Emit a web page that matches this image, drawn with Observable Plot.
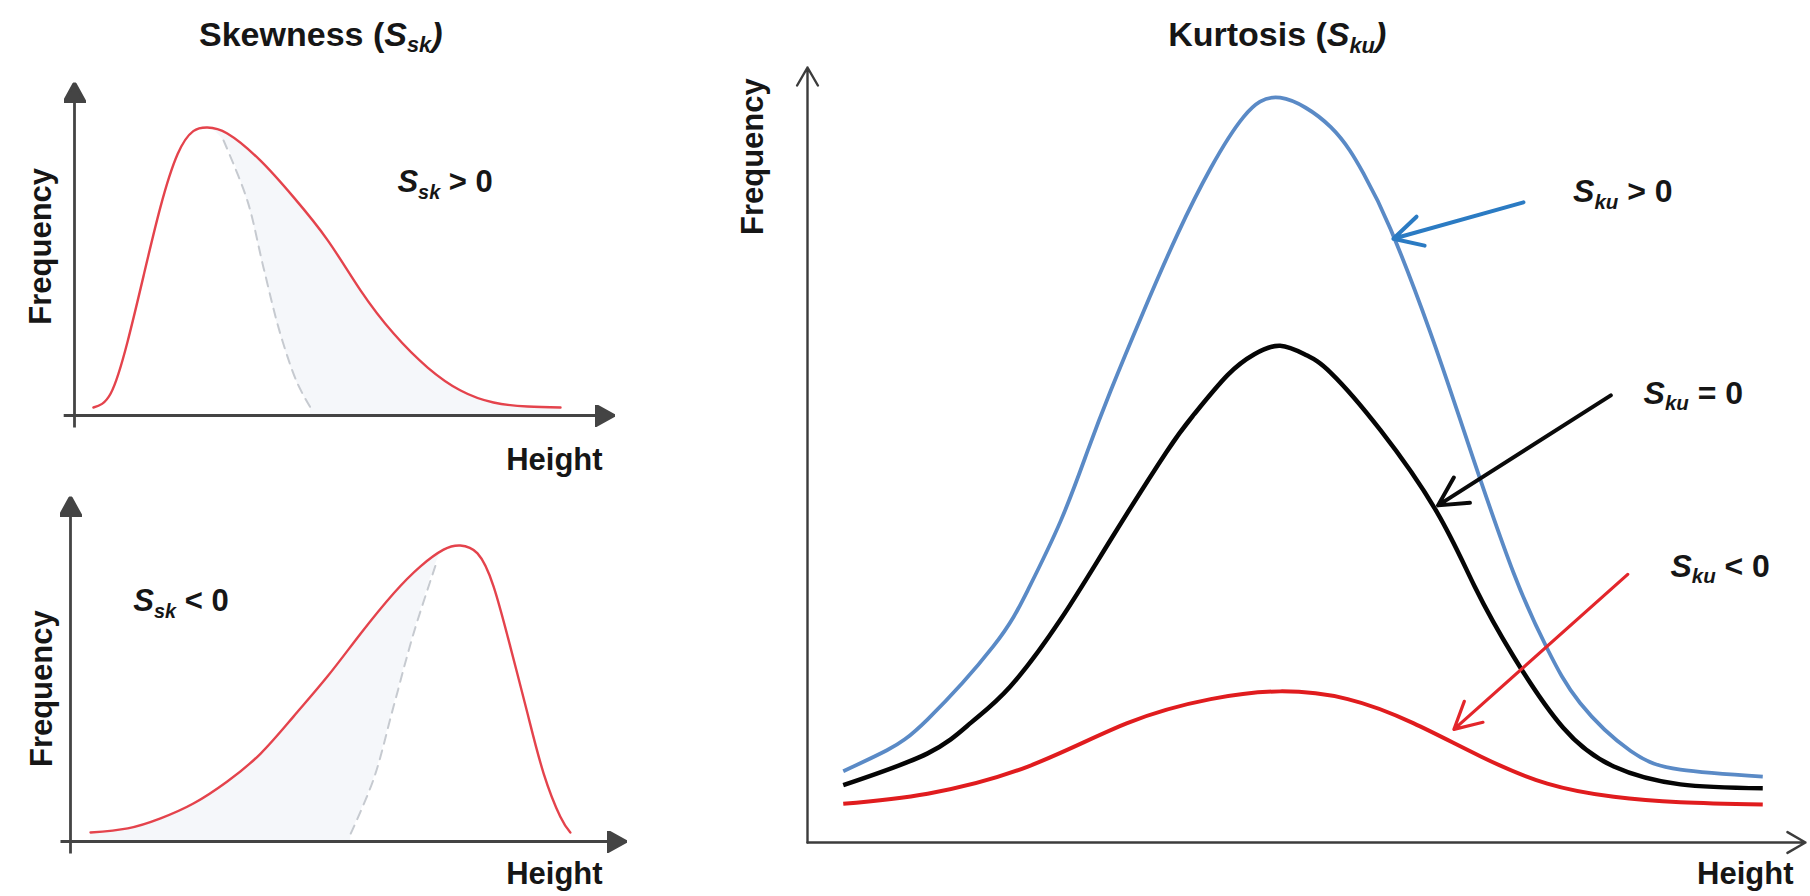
<!DOCTYPE html>
<html>
<head>
<meta charset="utf-8">
<script src="https://cdn.jsdelivr.net/npm/d3@7"></script>
<script src="https://cdn.jsdelivr.net/npm/@observablehq/plot@0.6"></script>
<style>
  html, body { margin: 0; padding: 0; background: #fff; }
  #fig { position: relative; width: 1810px; height: 896px; overflow: hidden; background: #fff; }
  #fig > div { position: absolute; }
  #pa { left: 0; top: 0; }
  #pb { left: 0; top: 478px; }
  #pc { left: 650px; top: 0; }
</style>
</head>
<body>
<div id="fig"><div id="pa"></div><div id="pb"></div><div id="pc"></div></div>
<script>
// ---------------- DATA ----------------
// Skewness, S_sk > 0 : [height, frequency]
const skewPosCurve = [[3.5,2.4],[6.7,6.6],[9.8,22.0],[12.8,42.0],[15.9,62.5],[19.1,78.5],[22.0,85.4],[24.6,86.5],[28.3,84.7],[34.4,76.6],[40.6,65.5],[46.9,52.6],[53.0,37.5],[59.1,24.6],[65.4,14.4],[71.5,7.5],[77.6,3.9],[83.9,2.7],[90.0,2.4]];
const skewPosRef   = [[27.6,82.6],[32.0,64.6],[35.0,44.4],[38.1,24.6],[41.3,9.6],[43.7,2.4]];
// Skewness, S_sk < 0
const skewNegCurve = [[3.6,2.6],[10.3,3.8],[16.2,6.7],[22.1,11.0],[28.2,17.4],[34.2,25.5],[40.1,36.2],[46.2,47.8],[52.2,60.3],[58.1,71.9],[62.9,79.7],[67.1,84.6],[70.1,85.8],[73.2,83.5],[76.1,73.9],[79.1,56.5],[82.2,37.1],[85.1,19.7],[88.1,7.2],[89.9,2.6]];
const skewNegRef   = [[50.4,2.3],[54.5,18.0],[58.1,39.1],[61.7,60.3],[66.0,81.7]];
// Kurtosis curves
const kurtPos  = [[3.6,9.2],[8.0,11.9],[12.1,15.9],[18.7,25.3],[22.2,32.6],[25.5,41.5],[28.2,50.5],[30.5,58.2],[33.8,68.4],[37.3,78.6],[40.6,87.0],[43.9,93.6],[47.6,96.1],[52.7,92.3],[56.0,86.3],[58.7,79.2],[62.7,65.9],[66.5,51.6],[71.1,34.8],[74.5,25.0],[77.8,18.0],[82.9,11.8],[87.9,9.4],[96.2,8.5]];
const kurtZero = [[3.6,7.4],[12.1,11.5],[16.5,15.5],[20.4,20.1],[25.5,28.8],[30.5,39.0],[36.1,50.3],[38.9,55.2],[42.3,60.3],[45.0,63.0],[47.6,64.1],[50.2,62.9],[52.7,60.6],[57.7,53.2],[63.4,42.6],[67.2,33.0],[71.1,24.0],[76.1,14.8],[81.2,9.8],[87.9,7.5],[96.2,7.0]];
const kurtNeg  = [[3.6,5.0],[12.1,6.3],[22.2,9.8],[32.2,15.4],[40.6,18.5],[47.6,19.5],[54.4,18.5],[61.0,15.4],[67.8,11.1],[74.5,7.6],[81.2,5.9],[87.9,5.2],[96.2,4.9]];
// Kurtosis annotations
const kurtSeries = ["S_ku > 0", "S_ku = 0", "S_ku < 0"];
const kurtLabelAt = [[77.1,82.6],[84.2,56.6],[86.9,34.3]];
const kurtArrowFrom = [[72.1,82.6],[80.9,57.7],[82.6,34.6]];
const kurtArrowTo   = [[59.0,77.9],[63.5,43.5],[65.1,14.6]];
// Texts
const skewTitle = "Skewness (S_sk)";
const kurtTitle = "Kurtosis (S_ku)";
const skewLabels = ["S_sk > 0", "S_sk < 0"];
const xLabel = "Height";
const yLabel = "Frequency";

// ---------------- STYLE ----------------
const FONT = '"Liberation Sans", Arial, Helvetica, sans-serif';
const NS = "http://www.w3.org/2000/svg";
const SKEW_RED = "#e4434c", REF_GREY = "#c6cad0", FILL = "#f5f7fa", AXIS = "#444444";
const TXT = "#161616";
const CURVE = "natural";

const pts = (arr) => arr.map(([x, y]) => ({x, y}));

function filledArrow(color) {
  const m = document.createElementNS(NS, "marker");
  m.setAttribute("viewBox", "-20 -11 20 22");
  m.setAttribute("markerWidth", 20);
  m.setAttribute("markerHeight", 22);
  m.setAttribute("markerUnits", "userSpaceOnUse");
  m.setAttribute("refX", 0);
  m.setAttribute("refY", 0);
  m.setAttribute("orient", "auto");
  const p = document.createElementNS(NS, "path");
  p.setAttribute("d", "M0,0L-20,-11L-20,11Z");
  p.setAttribute("fill", color);
  m.appendChild(p);
  return m;
}

function txt(data, o) {
  return Plot.text(data, {x: "x", y: "y", text: "text", fill: TXT, fontWeight: "bold",
    fontFamily: FONT, lineAnchor: "bottom", ...o});
}

function richText(svg) {
  for (const t of svg.querySelectorAll("text")) {
    const s = t.textContent;
    const m = s.match(/^(.*?)([A-Za-z])_([a-z]+)(.*)$/);
    if (!m) continue;
    const fs = parseFloat(getComputedStyle(t).fontSize) || 30;
    t.textContent = "";
    const add = (str, attrs) => {
      const ts = document.createElementNS(NS, "tspan");
      for (const k in attrs) ts.setAttribute(k, attrs[k]);
      ts.textContent = str;
      t.appendChild(ts);
    };
    if (m[1]) add(m[1], {});
    add(m[2], {"font-style": "italic"});
    add(m[3], {"font-style": "italic", "font-size": (fs * 0.64) + "px", dy: fs * 0.2});
    if (m[4]) add(m[4], {dy: -fs * 0.2, "font-style": m[4].trim() === ")" ? "italic" : "normal"});
  }
}

function panel(el, width, height, xRange, yRange, marks) {
  const svg = Plot.plot({
    width, height, margin: 0,
    x: {domain: [0, 100], range: xRange, axis: null},
    y: {domain: [0, 100], range: yRange, axis: null},
    style: {background: "transparent", overflow: "visible", fontFamily: FONT},
    marks
  });
  document.getElementById(el).appendChild(svg);
  richText(svg);
}

function skewMarks(curve, ref, mask, axes, texts) {
  return [
    Plot.areaY(curve, {x: "x", y: "y", curve: CURVE, fill: FILL}),
    Plot.areaY(mask, {x: "x", y: "y", curve: "catmull-rom", fill: "white"}),
    Plot.line(ref, {x: "x", y: "y", curve: "catmull-rom", stroke: REF_GREY, strokeWidth: 2, strokeDasharray: "9,7"}),
    Plot.line(curve, {x: "x", y: "y", curve: CURVE, stroke: SKEW_RED, strokeWidth: 2.4}),
    Plot.link(axes, {x1: "x1", y1: "y1", x2: "x2", y2: "y2", stroke: AXIS, strokeWidth: 2.8, markerEnd: filledArrow}),
    ...texts
  ];
}

// ---- Panel A: positive skew ----
{
  const curve = pts(skewPosCurve), ref = pts(skewPosRef);
  const mask = curve.filter(d => d.x < ref[0].x).concat(ref);
  const axes = [{x1: -2, y1: 0, x2: 100, y2: 0}, {x1: 0, y1: -3.6, x2: 0, y2: 100}];
  panel("pa", 650, 478, [74, 614], [415, 82], skewMarks(curve, ref, mask, axes, [
    txt([{x: 45.6, y: 111.1, text: skewTitle}], {fontSize: 34, textAnchor: "middle"}),
    txt([{x: 59.8, y: 67.0, text: skewLabels[0]}], {fontSize: 31, textAnchor: "start"}),
    txt([{x: 97.8, y: -16.5, text: xLabel}], {fontSize: 31, textAnchor: "end"}),
    txt([{x: -4.3, y: 50.8, text: yLabel}], {fontSize: 31, textAnchor: "middle", rotate: -90})
  ]));
}

// ---- Panel B: negative skew ----
{
  const curve = pts(skewNegCurve), ref = pts(skewNegRef);
  const mask = ref.concat(curve.filter(d => d.x > ref[ref.length - 1].x));
  const axes = [{x1: -1.8, y1: 0, x2: 100, y2: 0}, {x1: 0, y1: -3.5, x2: 0, y2: 100}];
  panel("pb", 650, 418, [70, 626], [363, 18], skewMarks(curve, ref, mask, axes, [
    txt([{x: 11.3, y: 66.7, text: skewLabels[1]}], {fontSize: 31, textAnchor: "start"}),
    txt([{x: 95.7, y: -12.2, text: xLabel}], {fontSize: 31, textAnchor: "end"}),
    txt([{x: -3.4, y: 44.3, text: yLabel}], {fontSize: 31, textAnchor: "middle", rotate: -90})
  ]));
}

// ---- Panel C: kurtosis ----
{
  const colors = ["#5a8ac6", "#050505", "#e01c1e"];
  const arrowColors = ["#2b7bc3", "#0a0a0a", "#e3262b"];
  const widths = [3.8, 4.5, 4];
  const series = [kurtPos, kurtZero, kurtNeg];
  const arrows = kurtSeries.map((s, i) => ({
    x1: kurtArrowFrom[i][0], y1: kurtArrowFrom[i][1], x2: kurtArrowTo[i][0], y2: kurtArrowTo[i][1]
  }));
  const labels = kurtSeries.map((s, i) => ({x: kurtLabelAt[i][0], y: kurtLabelAt[i][1], text: s}));
  const axes = [{x1: 0, y1: 0, x2: 100.5, y2: 0}, {x1: 0, y1: 0, x2: 0, y2: 100}];
  panel("pc", 1160, 896, [157, 1150], [842, 67], [
    ...series.map((s, i) => Plot.line(pts(s), {x: "x", y: "y", curve: CURVE,
      stroke: colors[i], strokeWidth: widths[i], strokeLinecap: "butt"})),
    Plot.arrow(axes, {x1: "x1", y1: "y1", x2: "x2", y2: "y2", stroke: "#3c3c3c", strokeWidth: 2.4,
      headLength: 13, headAngle: 60}),
    Plot.arrow([arrows[0]], {x1: "x1", y1: "y1", x2: "x2", y2: "y2", stroke: arrowColors[0], strokeWidth: 4, headLength: 12, headAngle: 56}),
    Plot.arrow([arrows[1]], {x1: "x1", y1: "y1", x2: "x2", y2: "y2", stroke: arrowColors[1], strokeWidth: 4, headLength: 12, headAngle: 56}),
    Plot.arrow([arrows[2]], {x1: "x1", y1: "y1", x2: "x2", y2: "y2", stroke: arrowColors[2], strokeWidth: 3.2, headLength: 14, headAngle: 56}),
    txt(labels, {fontSize: 32, textAnchor: "start"}),
    txt([{x: 47.3, y: 102.8, text: kurtTitle}], {fontSize: 34, textAnchor: "middle"}),
    txt([{x: 99.3, y: -5.4, text: xLabel}], {fontSize: 31, textAnchor: "end"}),
    txt([{x: -4.5, y: 88.5, text: yLabel}], {fontSize: 31, textAnchor: "middle", rotate: -90})
  ]);
}
</script>
</body>
</html>
